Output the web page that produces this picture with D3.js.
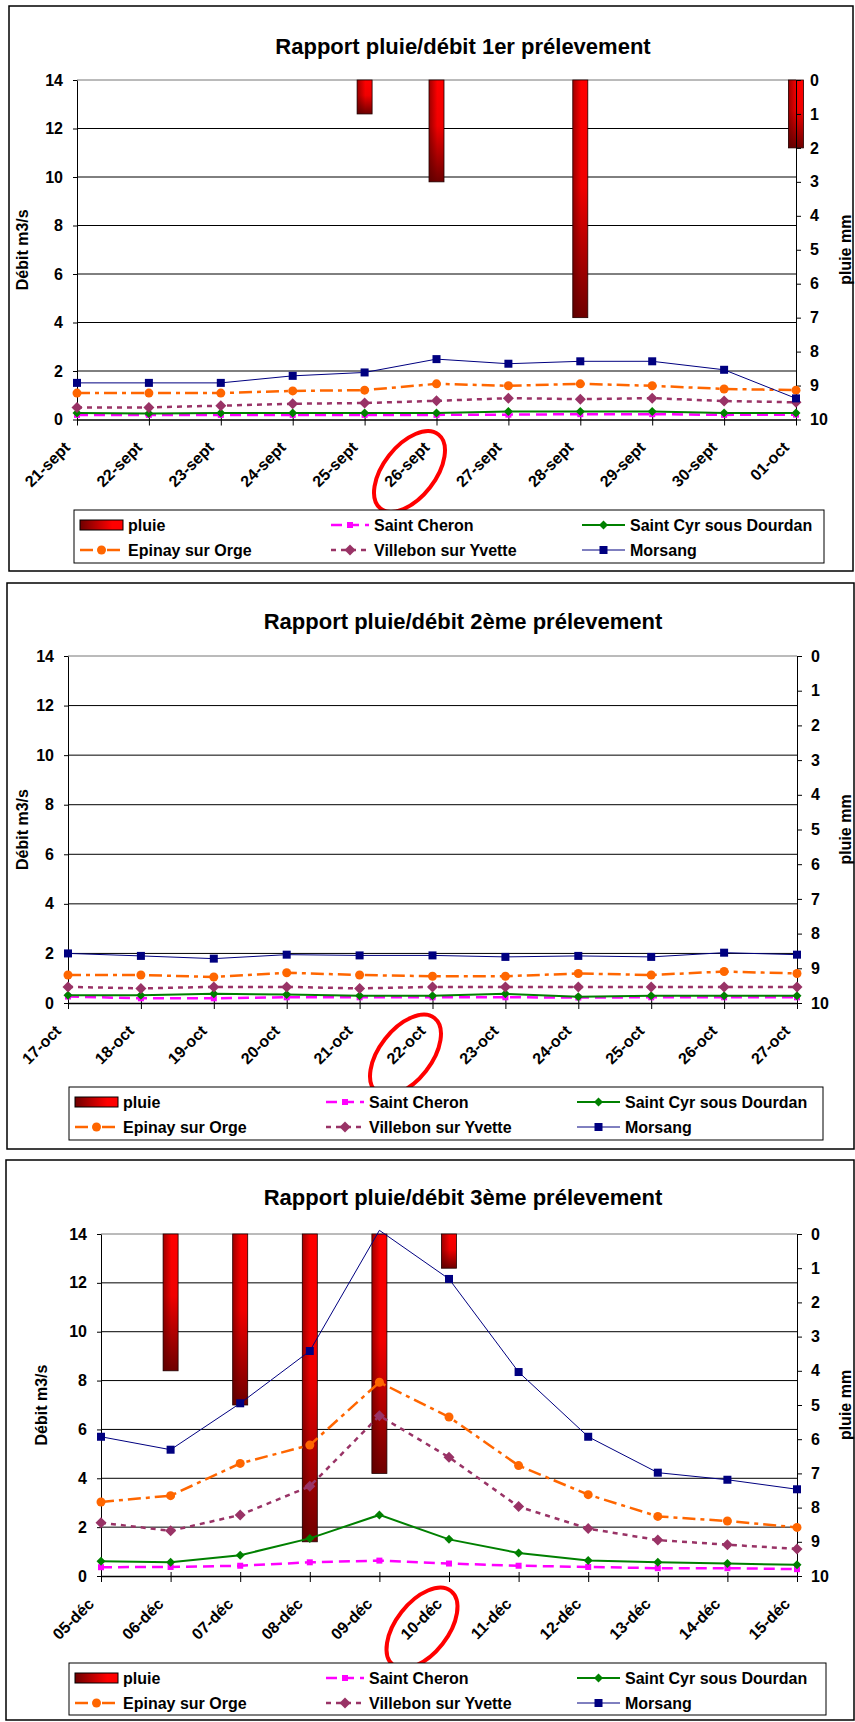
<!DOCTYPE html>
<meta charset="utf-8">
<title>Rapport pluie/débit</title>
<style>
  body { margin: 0; background: #fff; }
  svg { font-family: "Liberation Sans", Arial, sans-serif; font-weight: bold; }
</style>
<svg width="855" height="1722"></svg>
<script src="https://d3js.org/d3.v7.min.js"></script>
<script>

// ---- data ----
var dates1 = ["21-sept", "22-sept", "23-sept", "24-sept", "25-sept", "26-sept", "27-sept", "28-sept", "29-sept", "30-sept", "01-oct"];
var pluie1 = [0, 0, 0, 0, 1, 3, 0, 7, 0, 0, 2];
var saintCheron1 = [0.19, 0.19, 0.19, 0.19, 0.19, 0.19, 0.2, 0.22, 0.22, 0.19, 0.2];
var saintCyr1 = [0.27, 0.25, 0.27, 0.27, 0.27, 0.27, 0.33, 0.33, 0.33, 0.27, 0.27];
var epinay1 = [1.09, 1.09, 1.09, 1.18, 1.21, 1.47, 1.39, 1.47, 1.39, 1.26, 1.21];
var villebon1 = [0.5, 0.5, 0.57, 0.65, 0.68, 0.77, 0.88, 0.84, 0.88, 0.76, 0.71];
var morsang1 = [1.51, 1.51, 1.51, 1.8, 1.94, 2.49, 2.3, 2.4, 2.4, 2.05, 0.87];

var dates2 = ["17-oct", "18-oct", "19-oct", "20-oct", "21-oct", "22-oct", "23-oct", "24-oct", "25-oct", "26-oct", "27-oct"];
var pluie2 = [0, 0, 0, 0, 0, 0, 0, 0, 0, 0, 0];
var saintCheron2 = [0.26, 0.19, 0.19, 0.23, 0.23, 0.23, 0.23, 0.22, 0.23, 0.23, 0.23];
var saintCyr2 = [0.31, 0.31, 0.37, 0.34, 0.29, 0.29, 0.37, 0.25, 0.29, 0.29, 0.29];
var epinay2 = [1.13, 1.13, 1.05, 1.22, 1.13, 1.08, 1.08, 1.19, 1.13, 1.27, 1.19];
var villebon2 = [0.65, 0.59, 0.65, 0.65, 0.59, 0.65, 0.65, 0.65, 0.65, 0.65, 0.65];
var morsang2 = [2.0, 1.9, 1.79, 1.95, 1.92, 1.92, 1.86, 1.9, 1.86, 2.03, 1.95];

var dates3 = ["05-déc", "06-déc", "07-déc", "08-déc", "09-déc", "10-déc", "11-déc", "12-déc", "13-déc", "14-déc", "15-déc"];
var pluie3 = [0, 4, 5, 9, 7, 1, 0, 0, 0, 0, 0];
var saintCheron3 = [0.36, 0.37, 0.42, 0.56, 0.63, 0.51, 0.42, 0.37, 0.32, 0.32, 0.28];
var saintCyr3 = [0.6, 0.56, 0.85, 1.54, 2.5, 1.5, 0.94, 0.63, 0.56, 0.51, 0.46];
var epinay3 = [3.03, 3.29, 4.61, 5.36, 7.93, 6.51, 4.52, 3.33, 2.44, 2.25, 1.99];
var villebon3 = [2.18, 1.85, 2.5, 3.67, 6.56, 4.86, 2.84, 1.94, 1.47, 1.28, 1.11];
var morsang3 = [5.7, 5.17, 7.07, 9.21, 14.15, 12.16, 8.35, 5.7, 4.23, 3.94, 3.55];

var debitTicks = [0, 2, 4, 6, 8, 10, 12, 14];
var pluieTicks = [0, 1, 2, 3, 4, 5, 6, 7, 8, 9, 10];

var titles = ["Rapport pluie/débit 1er prélevement", "Rapport pluie/débit 2ème prélevement", "Rapport pluie/débit 3ème prélevement"];
var seriesNames = ["Saint Cheron", "Saint Cyr sous Dourdan", "Epinay sur Orge", "Villebon sur Yvette", "Morsang"];

// ---- styles ----
var styles = [
  { color: "#FF00FF", width: 2.5, dash: "11,6", marker: "square", size: 3 },
  { color: "#008000", width: 2, dash: null, marker: "diamond", size: 4.5 },
  { color: "#FF6600", width: 2.5, dash: "13,5,4,5", marker: "circle", size: 4.5 },
  { color: "#993366", width: 2.5, dash: "5,5", marker: "diamond", size: 5.5 },
  { color: "#000080", width: 1, dash: null, marker: "square", size: 4 }
];

var panels = [
  { box: [9, 6, 844, 565], titleY: 54, left: 77, right: 796, top: 80, bottom: 419.5, ylabX: 22, y2labX: 851,
    legend: [74, 510, 750, 53], dates: dates1, pluie: pluie1,
    series: [saintCheron1, saintCyr1, epinay1, villebon1, morsang1] },
  { box: [7, 583, 847, 566], titleY: 629, left: 68, right: 797, top: 656, bottom: 1003, ylabX: 22, y2labX: 851,
    legend: [69, 1087, 754, 53], dates: dates2, pluie: pluie2,
    series: [saintCheron2, saintCyr2, epinay2, villebon2, morsang2] },
  { box: [6, 1160, 848, 560], titleY: 1205, left: 101, right: 797, top: 1234, bottom: 1576, ylabX: 41, y2labX: 851,
    legend: [69, 1663, 757, 52], dates: dates3, pluie: pluie3,
    series: [saintCheron3, saintCyr3, epinay3, villebon3, morsang3] }
];

var svg = d3.select("svg");
var defs = svg.append("defs");

var gv = defs.append("linearGradient").attr("id", "pluieV")
  .attr("x1", 0).attr("y1", 0).attr("x2", 0).attr("y2", 1);
gv.append("stop").attr("offset", 0).attr("stop-color", "#ff0000");
gv.append("stop").attr("offset", 0.45).attr("stop-color", "#f00000");
gv.append("stop").attr("offset", 1).attr("stop-color", "#6e0000");

var gh = defs.append("linearGradient").attr("id", "pluieH")
  .attr("x1", 0).attr("y1", 0).attr("x2", 1).attr("y2", 0);
gh.append("stop").attr("offset", 0).attr("stop-color", "#500000").attr("stop-opacity", 0.55);
gh.append("stop").attr("offset", 0.55).attr("stop-color", "#500000").attr("stop-opacity", 0);

var gl = defs.append("linearGradient").attr("id", "pluieLeg")
  .attr("x1", 0).attr("y1", 0).attr("x2", 1).attr("y2", 0);
gl.append("stop").attr("offset", 0).attr("stop-color", "#6e0000");
gl.append("stop").attr("offset", 0.75).attr("stop-color", "#ff0000");

function drawMarker(sel, st, cx, cy) {
  var s = st.size;
  if (st.marker == "square") {
    sel.append("rect").attr("x", cx - s).attr("y", cy - s).attr("width", 2 * s).attr("height", 2 * s)
      .attr("fill", st.color);
  } else if (st.marker == "diamond") {
    sel.append("path").attr("d", "M" + cx + "," + (cy - s) + "L" + (cx + s) + "," + cy + "L" + cx + "," + (cy + s) + "L" + (cx - s) + "," + cy + "Z")
      .attr("fill", st.color);
  } else {
    sel.append("circle").attr("cx", cx).attr("cy", cy).attr("r", s).attr("fill", st.color);
  }
}

function drawPanel(p, pi) {
  var g = svg.append("g");

  g.append("rect")
    .attr("x", p.box[0]).attr("y", p.box[1]).attr("width", p.box[2]).attr("height", p.box[3])
    .attr("fill", "#fff").attr("stroke", "#000").attr("stroke-width", 1.5);

  g.append("text").attr("x", 463).attr("y", p.titleY).attr("text-anchor", "middle")
    .attr("font-size", 22).text(titles[pi]);

  var x = d3.scalePoint().domain(p.dates).range([p.left, p.right]);
  var y = d3.scaleLinear().domain([0, 14]).range([p.bottom, p.top]);
  var y2 = d3.scaleLinear().domain([0, 10]).range([p.top, p.bottom]);

  // gridlines
  g.append("g").selectAll("line").data(debitTicks.slice(1)).join("line")
    .attr("x1", p.left).attr("x2", p.right)
    .attr("y1", function(d) { return y(d); }).attr("y2", function(d) { return y(d); })
    .attr("stroke", function(d) { return d == 14 ? "#777" : "#000"; }).attr("stroke-width", 1);

  // rain bars, hanging from the top
  var bw = 15;
  var rain = p.dates.map(function(d, i) { return { d: d, v: p.pluie[i] }; })
    .filter(function(d) { return d.v > 0; });
  var bars = g.append("g").selectAll("g").data(rain).join("g");
  bars.append("rect")
    .attr("x", function(d) { return x(d.d) - bw / 2; }).attr("y", y2(0))
    .attr("width", bw).attr("height", function(d) { return y2(d.v) - y2(0); })
    .attr("fill", "url(#pluieV)");
  bars.append("rect")
    .attr("x", function(d) { return x(d.d) - bw / 2; }).attr("y", y2(0))
    .attr("width", bw).attr("height", function(d) { return y2(d.v) - y2(0); })
    .attr("fill", "url(#pluieH)").attr("stroke", "#200000").attr("stroke-width", 0.8);

  // axes
  var ax = g.append("g").attr("transform", "translate(" + p.left + ",0)")
    .call(d3.axisLeft(y).tickValues(debitTicks).tickSize(4).tickSizeOuter(0).tickPadding(10));
  var ax2 = g.append("g").attr("transform", "translate(" + p.right + ",0)")
    .call(d3.axisRight(y2).tickValues(pluieTicks).tickSize(5).tickSizeOuter(0).tickPadding(9));
  var axb = g.append("g").attr("transform", "translate(0," + p.bottom + ")")
    .call(d3.axisBottom(x).tickSize(6).tickSizeOuter(0).tickFormat(""));
  axb.selectAll(".tick line").attr("y1", -4);
  axb.select(".domain").attr("stroke-width", 1.5);
  [ax, ax2].forEach(function(a) {
    a.attr("font-size", 16).attr("font-family", null).attr("font-weight", "bold");
    a.selectAll("text").attr("fill", "#000");
  });

  // date labels
  g.append("g").selectAll("text").data(p.dates).join("text")
    .attr("text-anchor", "end").attr("font-size", 16)
    .attr("transform", function(d) { return "translate(" + (x(d) - 6) + "," + (p.bottom + 29) + ") rotate(-45)"; })
    .text(function(d) { return d; });

  // axis titles
  g.append("text").attr("font-size", 16).attr("text-anchor", "middle")
    .attr("transform", "translate(" + (p.ylabX + 6) + "," + ((p.top + p.bottom) / 2) + ") rotate(-90)")
    .text("Débit m3/s");
  g.append("text").attr("font-size", 16).attr("text-anchor", "middle")
    .attr("transform", "translate(" + p.y2labX + "," + ((p.top + p.bottom) / 2) + ") rotate(-90)")
    .text("pluie mm");

  // series lines
  var clipId = "clip" + pi;
  defs.append("clipPath").attr("id", clipId).append("rect")
    .attr("x", p.left - 10).attr("y", p.top).attr("width", p.right - p.left + 20).attr("height", p.bottom - p.top + 10);

  var line = d3.line()
    .x(function(d, i) { return x(p.dates[i]); })
    .y(function(d) { return y(d); });

  p.series.forEach(function(vals, si) {
    var st = styles[si];
    g.append("path").datum(vals).attr("d", line)
      .attr("fill", "none").attr("stroke", st.color).attr("stroke-width", st.width)
      .attr("stroke-dasharray", st.dash);
    var mg = g.append("g").attr("clip-path", "url(#" + clipId + ")");
    vals.forEach(function(v, i) { drawMarker(mg, st, x(p.dates[i]), y(v)); });
  });

  // red circle around the sampling date
  var cd = p.dates[5];
  g.append("ellipse").attr("rx", 47).attr("ry", 26)
    .attr("transform", "translate(" + (x(cd) - 27) + "," + (p.bottom + 52) + ") rotate(-52)")
    .attr("fill", "none").attr("stroke", "#ff0000").attr("stroke-width", 4);

  // legend
  var L = p.legend;
  var lg = g.append("g");
  lg.append("rect").attr("x", L[0]).attr("y", L[1]).attr("width", L[2]).attr("height", L[3])
    .attr("fill", "#fff").attr("stroke", "#000").attr("stroke-width", 1);
  var rows = [L[1] + 15, L[1] + 40];
  var cols = [L[0], L[0] + 251, L[0] + 502];
  var items = [
    { name: "pluie", col: 0, row: 0, s: -1 },
    { name: seriesNames[0], col: 1, row: 0, s: 0 },
    { name: seriesNames[1], col: 2, row: 0, s: 1 },
    { name: seriesNames[2], col: 0, row: 1, s: 2 },
    { name: seriesNames[3], col: 1, row: 1, s: 3 },
    { name: seriesNames[4], col: 2, row: 1, s: 4 }
  ];
  items.forEach(function(it) {
    var cx = cols[it.col], cy = rows[it.row];
    var sx0 = cx + 6, sx1 = it.col == 1 ? cx + 44 : cx + 49;
    if (it.s < 0) {
      lg.append("rect").attr("x", sx0).attr("y", cy - 5).attr("width", sx1 - sx0).attr("height", 10)
        .attr("fill", "url(#pluieLeg)").attr("stroke", "#000").attr("stroke-width", 1);
    } else {
      var st = styles[it.s];
      lg.append("line").attr("x1", sx0).attr("x2", sx1).attr("y1", cy).attr("y2", cy)
        .attr("stroke", st.color).attr("stroke-width", st.width).attr("stroke-dasharray", st.dash);
      drawMarker(lg, st, (sx0 + sx1) / 2, cy);
    }
    lg.append("text").attr("x", sx1 + 5).attr("y", cy).attr("dy", "0.36em")
      .attr("font-size", 16).text(it.name);
  });
}

panels.forEach(drawPanel);

</script>
